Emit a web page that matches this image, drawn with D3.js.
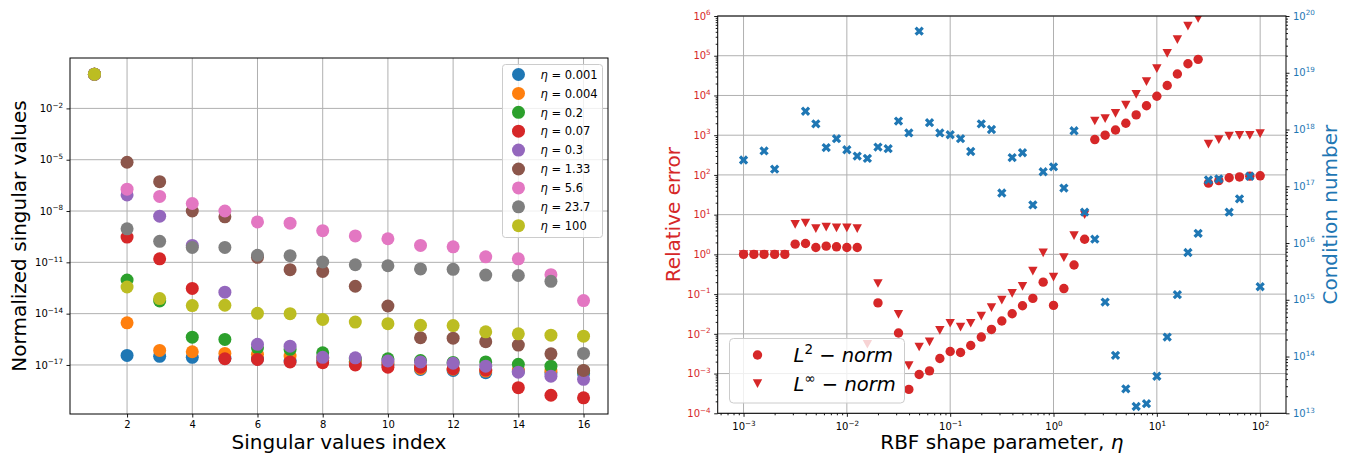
<!DOCTYPE html>
<html><head><meta charset="utf-8">
<script src="https://cdn.jsdelivr.net/npm/d3@7"></script>
<style>body{margin:0;background:#fff} text{font-family:"DejaVu Sans",sans-serif}</style>
</head><body><svg id="c" width="1350" height="454"></svg>
<script>
// ---------------- DATA: left panel ----------------
const svIndex = [1,2,3,4,5,6,7,8,9,10,11,12,13,14,15,16];
const svTicksX = [2,4,6,8,10,12,14,16];
const svTicksYExp = [-2,-5,-8,-11,-14,-17];
const etaLabels = ["0.001","0.004","0.2","0.07","0.3","1.33","5.6","23.7","100"];
const sv_eta_0001 = [1,3.6e-17,3.2e-17,2.8e-17,2.5e-17,2.2e-17,1.8e-17,1.8e-17,1.3e-17,1.1e-17,5.5e-18,4.8e-18,3.5e-18,4.2e-18,3.5e-18,3.2e-18];
const sv_eta_0004 = [1,2.9e-15,7.1e-17,5.9e-17,4.7e-17,4.2e-17,3.3e-17,2.5e-17,1.6e-17,1.3e-17,6.3e-18,5.6e-18,4.4e-18,5e-18,4.4e-18,4.5e-18];
const sv_eta_02   = [1,9.3e-13,5.5e-14,4.2e-16,3.1e-16,1.0e-16,8.1e-17,5.1e-17,2.2e-17,2.3e-17,1.8e-17,1.4e-17,1.5e-17,1.1e-17,8.5e-18,4.5e-18];
const sv_eta_007  = [1,3.0e-10,1.6e-11,3.0e-13,2.3e-17,2.1e-17,1.5e-17,1.35e-17,1.0e-17,7.4e-18,7.4e-18,6.0e-18,5.0e-18,4.7e-19,1.7e-19,1.2e-19];
const sv_eta_03   = [1,8.7e-8,5.0e-9,9.8e-11,1.8e-13,1.6e-16,1.26e-16,2.8e-17,2.6e-17,1.7e-17,1.5e-17,1.26e-17,8.5e-18,3.8e-18,2.2e-18,1.45e-18];
const sv_eta_133  = [1,7.1e-6,5.2e-7,1.0e-8,4.6e-9,1.95e-11,3.7e-12,2.95e-12,4.0e-13,2.8e-14,3.9e-16,3.7e-16,2.3e-16,1.45e-16,4.5e-17,4.8e-18];
const sv_eta_56   = [1,1.9e-7,7.1e-8,2.75e-8,1.0e-8,2.3e-9,1.95e-9,7.1e-10,3.5e-10,2.4e-10,9.8e-11,8.1e-11,2.1e-11,1.6e-11,1.9e-12,5.8e-14];
const sv_eta_237  = [1,9.1e-10,1.7e-10,7.4e-11,7.4e-11,2.6e-11,2.45e-11,1.05e-11,7.2e-12,6.3e-12,4.1e-12,3.9e-12,1.8e-12,1.7e-12,7.8e-13,4.7e-17];
const sv_eta_100  = [1,3.6e-13,7.6e-14,2.95e-14,3.1e-14,1.05e-14,1.0e-14,4.6e-15,3.2e-15,2.6e-15,2.1e-15,2.0e-15,8.7e-16,6.6e-16,5.5e-16,4.8e-16];

// ---------------- DATA: right panel ----------------
const eta = [0.001,0.00126,0.00158,0.002,0.00251,0.00316,0.00398,0.00501,0.00631,0.00794,
  0.01,0.0126,0.0158,0.02,0.0251,0.0316,0.0398,0.0501,0.0631,0.0794,
  0.1,0.126,0.158,0.2,0.251,0.316,0.398,0.501,0.631,0.794,
  1,1.26,1.58,2,2.51,3.16,3.98,5.01,6.31,7.94,
  10,12.6,15.8,20,25.1,31.6,39.8,50.1,63.1,79.4,100];
const errL2 = [1.0,1.0,1.0,1.0,1.0, 1.81,1.88,1.49,1.61,1.55,
  1.49,1.49,null,0.06,null, 0.0105,4.0e-4,9.5e-4,1.17e-3,2.4e-3,
  3.6e-3,3.4e-3,5.1e-3,8.3e-3,0.0129, 0.021,0.032,0.051,0.078,0.20,
  0.052,0.138,0.54,2.4,776, 1000,1350,2000,3240,5500,
  9550,17800,34700,63000,81000, 62,72,85,89,93, 95];
const errLinf = [1.0,1.0,1.0,1.0,1.0, 5.75,6.2,4.5,4.9,4.7,
  4.7,4.5,5.5e-3,0.186,null, 0.031,1.6e-3,4.7e-3,6.3e-3,0.0123,
  0.0186,0.0148,0.0186,0.028,0.046, 0.071,0.105,0.158,0.38,1.1,
  0.27,0.83,3.0,10,2290, 2630,3550,5750,10700,22400,
  47900,115000,257000,562000,870000, 600,776,955,1000,1000, 1100];
const condNum = [2.9e17,null,4.2e17,2.0e17,null, null,2.1e18,1.26e18,4.8e17,6.9e17,
  4.4e17,3.4e17,3.1e17,4.9e17,4.6e17, 1.41e18,8.7e17,5.4e19,1.32e18,8.7e17,
  8.1e17,6.9e17,4.1e17,1.26e18,1.0e18, 7.6e16,3.2e17,3.9e17,4.7e16,1.8e17,
  2.2e17,9.3e16,9.5e17,3.5e16,1.17e16, 9.1e14,1.05e14,2.7e13,1.32e13,1.48e13,
  4.5e13,2.2e14,1.23e15,6.8e15,1.48e16, 1.29e17,1.35e17,3.5e16,6.0e16,1.5e17, 1.7e15];
const etaTicksExp = [-3,-2,-1,0,1,2];
const errTicksExp = [-4,-3,-2,-1,0,1,2,3,4,5,6];
const condTicksExp = [13,14,15,16,17,18,19,20];
const normLabels = ["2","\u221E"];

// ---------------- STYLE ----------------
const palette = ["#1f77b4","#ff7f0e","#2ca02c","#d62728","#9467bd","#8c564b","#e377c2","#7f7f7f","#bcbd22"];
const RED = "#d62728", BLUE = "#1f77b4", GRID = "#b0b0b0";
const TICKFS = 10;

const svg = d3.select("#c");
const svSeries = [sv_eta_0001,sv_eta_0004,sv_eta_02,sv_eta_007,sv_eta_03,sv_eta_133,sv_eta_56,sv_eta_237,sv_eta_100]
  .map((v,i)=>({label:etaLabels[i], values:v, color:palette[i]}));

function supLabel(sel, exp, fs){
  sel.text(null);
  sel.append("tspan").text("10");
  sel.append("tspan").attr("dy", (-0.45*fs)+"px").attr("font-size",(fs*0.72)+"px")
     .text(exp<0 ? "\u2212"+(-exp) : String(exp));
}
function styleAxis(g, color){
  g.select(".domain").remove();
  g.selectAll(".tick line").attr("stroke","#000").attr("stroke-width",0.9);
  g.selectAll(".tick text").attr("fill",color||"#000").attr("font-size",TICKFS+"px")
    .attr("font-family","DejaVu Sans");
}
function minorVals(loE, hiE, dom){
  const out=[];
  for(let e=loE;e<=hiE;e++) for(let m=2;m<=9;m++){const v=m*Math.pow(10,e); if(v>=dom[0]&&v<=dom[1]) out.push(v);}
  return out;
}

// ================= LEFT PANEL =================
const LA = {x0:70, x1:608, y0:58, y1:414};
const xL = d3.scaleLinear().domain([svIndex[0]-0.75, svIndex[svIndex.length-1]+0.75]).range([LA.x0, LA.x1]);
const allSv = svSeries.flatMap(s=>s.values);
const lmin = Math.log10(d3.min(allSv)), lmax = Math.log10(d3.max(allSv)), pad=(lmax-lmin)*0.05;
const yL = d3.scaleLog().domain([Math.pow(10,lmin-pad), Math.pow(10,lmax+pad)]).range([LA.y1, LA.y0]);

svg.append("clipPath").attr("id","clipL").append("rect")
  .attr("x",LA.x0).attr("y",LA.y0).attr("width",LA.x1-LA.x0).attr("height",LA.y1-LA.y0);
const gL = svg.append("g");
gL.append("g").selectAll("line").data(svTicksX).join("line")
  .attr("x1",d=>xL(d)).attr("x2",d=>xL(d)).attr("y1",LA.y0).attr("y2",LA.y1)
  .attr("stroke",GRID).attr("stroke-width",1);
gL.append("g").selectAll("line").data(svTicksYExp).join("line")
  .attr("y1",d=>yL(Math.pow(10,d))).attr("y2",d=>yL(Math.pow(10,d))).attr("x1",LA.x0).attr("x2",LA.x1)
  .attr("stroke",GRID).attr("stroke-width",1);

const ptsL = gL.append("g").attr("clip-path","url(#clipL)");
svSeries.forEach(s=>{
  ptsL.append("g").selectAll("circle").data(s.values).join("circle")
    .attr("cx",(d,i)=>xL(svIndex[i])).attr("cy",d=>yL(d)).attr("r",6.5).attr("fill",s.color);
});
gL.append("rect").attr("x",LA.x0).attr("y",LA.y0).attr("width",LA.x1-LA.x0).attr("height",LA.y1-LA.y0)
  .attr("fill","none").attr("stroke","#000").attr("stroke-width",1);

const axBL = gL.append("g").attr("transform",`translate(0,${LA.y1})`)
  .call(d3.axisBottom(xL).tickValues(svTicksX).tickSize(3.5).tickPadding(3.5));
styleAxis(axBL);
const axLL = gL.append("g").attr("transform",`translate(${LA.x0},0)`)
  .call(d3.axisLeft(yL).tickValues(svTicksYExp.map(e=>Math.pow(10,e))).tickSize(3.5).tickPadding(3.5));
styleAxis(axLL);
axLL.selectAll(".tick text").each(function(d){ supLabel(d3.select(this), Math.round(Math.log10(d)), TICKFS); });

gL.append("text").attr("x",(LA.x0+LA.x1)/2).attr("y",449).attr("text-anchor","middle")
  .attr("font-size","20px").text("Singular values index");
gL.append("text").attr("transform",`translate(25.5,${(LA.y0+LA.y1)/2}) rotate(-90)`).attr("text-anchor","middle")
  .attr("font-size","20px").text("Normalized singular values");

// legend
const lgL = gL.append("g");
lgL.append("rect").attr("x",502.5).attr("y",64.5).attr("width",100).attr("height",173).attr("rx",3)
  .attr("fill","#fff").attr("fill-opacity",0.8).attr("stroke","#cccccc").attr("stroke-width",1);
svSeries.forEach((s,i)=>{
  const cy = 74.5 + i*18.9;
  lgL.append("circle").attr("cx",518.5).attr("cy",cy).attr("r",6.5).attr("fill",s.color);
  const t = lgL.append("text").attr("x",540.5).attr("y",cy+4.2).attr("font-size","11.5px");
  t.append("tspan").attr("font-style","italic").text("\u03B7");
  t.append("tspan").text(" = " + s.label);
});

// ================= RIGHT PANEL =================
const RA = {x0:717.7, x1:1286, y0:16, y1:413.3};
const xR = d3.scaleLog().domain([Math.pow(10,-3.25), Math.pow(10,2.25)]).range([RA.x0, RA.x1]);
const yE = d3.scaleLog().domain([1e-4,1e6]).range([RA.y1, RA.y0]);
const yC = d3.scaleLog().domain([1e13,1e20]).range([RA.y1, RA.y0]);

svg.append("clipPath").attr("id","clipR").append("rect")
  .attr("x",RA.x0).attr("y",RA.y0).attr("width",RA.x1-RA.x0).attr("height",RA.y1-RA.y0);
const gR = svg.append("g");
gR.append("g").selectAll("line").data(etaTicksExp).join("line")
  .attr("x1",d=>xR(Math.pow(10,d))).attr("x2",d=>xR(Math.pow(10,d))).attr("y1",RA.y0).attr("y2",RA.y1)
  .attr("stroke",GRID).attr("stroke-width",1);
gR.append("g").selectAll("line").data(errTicksExp).join("line")
  .attr("y1",d=>yE(Math.pow(10,d))).attr("y2",d=>yE(Math.pow(10,d))).attr("x1",RA.x0).attr("x2",RA.x1)
  .attr("stroke",GRID).attr("stroke-width",1);

const ptsR = gR.append("g").attr("clip-path","url(#clipR)");
const triPath = r => `M${-r},${-r*0.9}L${r},${-r*0.9}L0,${r*0.95}Z`;
const xPath = (s,t) => {
  const p=[[-t,-s],[t,-s],[t,-t],[s,-t],[s,t],[t,t],[t,s],[-t,s],[-t,t],[-s,t],[-s,-t],[-t,-t]];
  const c=Math.SQRT1_2;
  return "M"+p.map(([x,y])=>[(x-y)*c,(x+y)*c].map(v=>v.toFixed(2)).join(",")).join("L")+"Z";
};
const idx = eta.map((d,i)=>i);
ptsR.append("g").selectAll("circle").data(idx.filter(i=>errL2[i]!=null)).join("circle")
  .attr("cx",i=>xR(eta[i])).attr("cy",i=>yE(errL2[i])).attr("r",4.7).attr("fill",RED);
ptsR.append("g").selectAll("path").data(idx.filter(i=>errLinf[i]!=null)).join("path")
  .attr("transform",i=>`translate(${xR(eta[i])},${yE(errLinf[i])})`).attr("d",triPath(4.7)).attr("fill",RED);

// legend for error (belongs to the error axes, drawn before condition markers)
const lgR = gR.append("g");
lgR.append("rect").attr("x",729.5).attr("y",338.5).attr("width",175).attr("height",64.5).attr("rx",4)
  .attr("fill","#fff").attr("fill-opacity",0.8).attr("stroke","#cccccc").attr("stroke-width",1);
lgR.append("circle").attr("cx",757.5).attr("cy",355).attr("r",4.7).attr("fill",RED);
lgR.append("path").attr("transform","translate(757.5,383.5)").attr("d",triPath(4.7)).attr("fill",RED);
normLabels.forEach((lab,i)=>{
  const t = lgR.append("text").attr("x",793.5).attr("y",(i?383.5:355)+7).attr("font-size","19.5px");
  t.append("tspan").attr("font-style","italic").text("L");
  t.append("tspan").attr("dy","-8").attr("font-size","13.5px").text(lab);
  t.append("tspan").attr("dy","8").text(" \u2212 ");
  t.append("tspan").attr("font-style","italic").text("norm");
});

const ptsC = gR.append("g").attr("clip-path","url(#clipR)");
ptsC.selectAll("path").data(idx.filter(i=>condNum[i]!=null)).join("path")
  .attr("transform",i=>`translate(${xR(eta[i])},${yC(condNum[i])})`).attr("d",xPath(5,1.6)).attr("fill",BLUE);

gR.append("rect").attr("x",RA.x0).attr("y",RA.y0).attr("width",RA.x1-RA.x0).attr("height",RA.y1-RA.y0)
  .attr("fill","none").attr("stroke","#000").attr("stroke-width",1);

// axes
const axBR = gR.append("g").attr("transform",`translate(0,${RA.y1})`)
  .call(d3.axisBottom(xR).tickValues(etaTicksExp.map(e=>Math.pow(10,e))).tickSize(3.5).tickPadding(3.5));
styleAxis(axBR);
axBR.selectAll(".tick text").attr("dy","1.0em").each(function(d){ supLabel(d3.select(this), Math.round(Math.log10(d)), TICKFS); });
const axBRm = gR.append("g").attr("transform",`translate(0,${RA.y1})`)
  .call(d3.axisBottom(xR).tickValues(minorVals(-4,2,xR.domain())).tickSize(2).tickFormat(""));
styleAxis(axBRm);

const axER = gR.append("g").attr("transform",`translate(${RA.x0},0)`)
  .call(d3.axisLeft(yE).tickValues(errTicksExp.map(e=>Math.pow(10,e))).tickSize(3.5).tickPadding(3.5));
styleAxis(axER, RED);
axER.selectAll(".tick text").each(function(d){ supLabel(d3.select(this), Math.round(Math.log10(d)), TICKFS); });
const axERm = gR.append("g").attr("transform",`translate(${RA.x0},0)`)
  .call(d3.axisLeft(yE).tickValues(minorVals(-4,5,yE.domain())).tickSize(2).tickFormat(""));
styleAxis(axERm);

const axCR = gR.append("g").attr("transform",`translate(${RA.x1},0)`)
  .call(d3.axisRight(yC).tickValues(condTicksExp.map(e=>Math.pow(10,e))).tickSize(3.5).tickPadding(3.5));
styleAxis(axCR, BLUE);
axCR.selectAll(".tick text").each(function(d){ supLabel(d3.select(this), Math.round(Math.log10(d)), TICKFS); });
const axCRm = gR.append("g").attr("transform",`translate(${RA.x1},0)`)
  .call(d3.axisRight(yC).tickValues(minorVals(13,19,yC.domain())).tickSize(2).tickFormat(""));
styleAxis(axCRm);

const xlab = gR.append("text").attr("x",(RA.x0+RA.x1)/2).attr("y",449).attr("text-anchor","middle").attr("font-size","20px");
xlab.append("tspan").text("RBF shape parameter, ");
xlab.append("tspan").attr("font-style","italic").text("\u03B7");
gR.append("text").attr("transform",`translate(679.5,${(RA.y0+RA.y1)/2}) rotate(-90)`).attr("text-anchor","middle")
  .attr("font-size","20px").attr("fill",RED).text("Relative error");
gR.append("text").attr("transform",`translate(1336.5,${(RA.y0+RA.y1)/2}) rotate(-90)`).attr("text-anchor","middle")
  .attr("font-size","20px").attr("fill",BLUE).text("Condition number");
</script></body></html>
